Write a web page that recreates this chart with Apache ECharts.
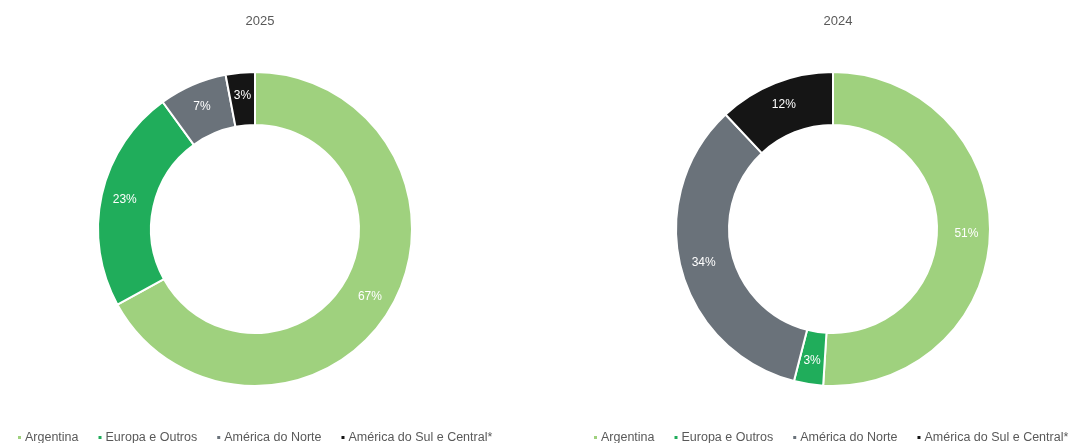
<!DOCTYPE html>
<html><head><meta charset="utf-8">
<script src="https://cdn.jsdelivr.net/npm/echarts@6/dist/echarts.min.js"></script>
<style>html,body{margin:0;padding:0;background:#fff}#c{width:1081px;height:443px}</style>
</head><body><div id="c"></div>
<script>
const categories = ['Argentina', 'Europa e Outros', 'América do Norte', 'América do Sul e Central*'];
const values2025 = [67, 23, 7, 3];
const values2024 = [51, 3, 34, 12];
const titles = ['2025', '2024'];
const colors = ['#9fd17e', '#20ad5b', '#6a727a', '#151515'];

const chart = echarts.init(document.getElementById('c'), null, {renderer: 'canvas'});
const mk = (vals, cx, idx) => ({
  type: 'pie', name: titles[idx], center: [cx, 229], radius: [104, 157],
  startAngle: 90, clockwise: true, avoidLabelOverlap: false,
  itemStyle: {borderColor: '#fff', borderWidth: 2},
  label: {show: true, position: 'inside', color: '#fff', fontSize: 12, fontFamily: 'Liberation Sans, Arial', formatter: '{c}%'},
  labelLine: {show: false},
  emphasis: {disabled: true},
  data: categories.map((n, i) => ({name: n, value: vals[i], itemStyle: {color: colors[i]}}))
});
const legendBase = {
  data: categories, icon: 'rect', itemWidth: 5, itemHeight: 5, itemGap: 18,
  orient: 'horizontal', width: 560, padding: 0,
  top: 431, textStyle: {color: '#595959', fontSize: 12.5, fontFamily: 'Liberation Sans, Arial', padding: [0, 0, 0, -2]}
};
chart.setOption({
  animation: false,
  color: colors,
  title: [
    {text: titles[0], left: 255, top: 10, textAlign: 'center', textStyle: {color: '#595959', fontSize: 13, fontWeight: 'normal', fontFamily: 'Liberation Sans, Arial'}},
    {text: titles[1], left: 833, top: 10, textAlign: 'center', textStyle: {color: '#595959', fontSize: 13, fontWeight: 'normal', fontFamily: 'Liberation Sans, Arial'}}
  ],
  legend: [
    Object.assign({}, legendBase, {left: 16}),
    Object.assign({}, legendBase, {left: 592})
  ],
  series: [mk(values2025, 255, 0), mk(values2024, 833, 1)]
});
</script></body></html>
